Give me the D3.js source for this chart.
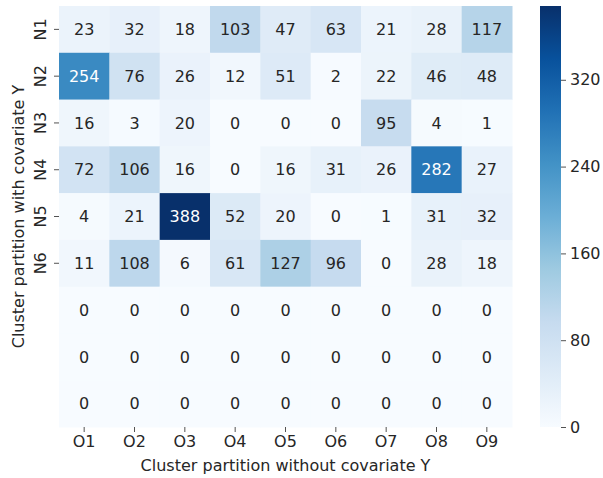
<!DOCTYPE html>
<html>
<head>
<meta charset="utf-8">
<script src="https://cdn.jsdelivr.net/npm/d3@7"></script>
<style>
  body { margin: 0; background: #fff; }
  text { font-family: "DejaVu Sans", sans-serif; }
</style>
</head>
<body>
<div id="chart"></div>
<script>
// column / row labels (last three rows have no label)
var cols = ["O1", "O2", "O3", "O4", "O5", "O6", "O7", "O8", "O9"];
var rows = ["N1", "N2", "N3", "N4", "N5", "N6", "", "", ""];

// counts, one array per row
var rowN1 = [23, 32, 18, 103, 47, 63, 21, 28, 117];
var rowN2 = [254, 76, 26, 12, 51, 2, 22, 46, 48];
var rowN3 = [16, 3, 20, 0, 0, 0, 95, 4, 1];
var rowN4 = [72, 106, 16, 0, 16, 31, 26, 282, 27];
var rowN5 = [4, 21, 388, 52, 20, 0, 1, 31, 32];
var rowN6 = [11, 108, 6, 61, 127, 96, 0, 28, 18];
var rowE1 = [0, 0, 0, 0, 0, 0, 0, 0, 0];
var rowE2 = [0, 0, 0, 0, 0, 0, 0, 0, 0];
var rowE3 = [0, 0, 0, 0, 0, 0, 0, 0, 0];

var cbTicks = [0, 80, 160, 240, 320];

var matrix = [rowN1, rowN2, rowN3, rowN4, rowN5, rowN6, rowE1, rowE2, rowE3];

var width = 603, height = 478;
var fs = 16;

//heatmap area
var hm = {left: 59, top: 6, right: 512, bottom: 427};
//colorbar area
var cb = {left: 540, right: 561};

var vmax = d3.max(matrix, r => d3.max(r));

//matplotlib Blues stops
var bluesStops = ["#f7fbff", "#deebf7", "#c6dbef", "#9ecae1", "#6baed6",
                  "#4292c6", "#2171b5", "#08519c", "#08306b"];
var color = d3.scaleLinear()
    .domain(d3.range(9).map(i => i / 8 * vmax))
    .range(bluesStops)
    .interpolate(d3.interpolateRgb)
    .clamp(true);

var xScale = d3.scaleBand().domain(d3.range(cols.length)).range([hm.left, hm.right]);
var yScale = d3.scaleBand().domain(d3.range(rows.length)).range([hm.top, hm.bottom]);
var cScale = d3.scaleLinear().domain([0, vmax]).range([hm.bottom, hm.top]);

var svg = d3.select("#chart").append("svg")
    .attr("width", width).attr("height", height);

//flatten to cells
var cells = [];
matrix.forEach((r, i) => r.forEach((v, j) => cells.push({i: i, j: j, v: v})));

function lum(c) {
    var rgb = d3.rgb(c);
    var f = x => { x = x / 255; return x <= 0.03928 ? x / 12.92 : Math.pow((x + 0.055) / 1.055, 2.4); };
    return 0.2126 * f(rgb.r) + 0.7152 * f(rgb.g) + 0.0722 * f(rgb.b);
}

svg.append("g").selectAll("rect")
    .data(cells)
    .enter().append("rect")
    .attr("x", d => xScale(d.j))
    .attr("y", d => yScale(d.i))
    .attr("width", xScale.bandwidth() + 0.5)
    .attr("height", yScale.bandwidth() + 0.5)
    .attr("fill", d => color(d.v));

svg.append("g").selectAll("text")
    .data(cells)
    .enter().append("text")
    .attr("x", d => xScale(d.j) + xScale.bandwidth() / 2)
    .attr("y", d => yScale(d.i) + yScale.bandwidth() / 2)
    .attr("text-anchor", "middle")
    .attr("dy", "0.36em")
    .style("font-size", fs + "px")
    .attr("fill", d => lum(color(d.v)) < 0.408 ? "#ffffff" : "#262626")
    .text(d => d.v);

//x axis
var xAxis = d3.axisBottom(xScale).tickSize(5).tickPadding(4).tickFormat(i => cols[i]);
var gx = svg.append("g").attr("transform", `translate(0, ${hm.bottom})`).call(xAxis)
    .attr("font-family", null).attr("font-size", null);
gx.select(".domain").remove();
gx.selectAll("line").attr("stroke", "#262626").attr("stroke-width", 0.8);
gx.selectAll("text").style("font-size", fs + "px").attr("fill", "#262626");

//y axis, only labelled rows get ticks
var labelled = d3.range(rows.length).filter(i => rows[i] !== "");
var yAxis = d3.axisLeft(yScale).tickValues(labelled).tickSize(5).tickPadding(4).tickFormat(i => rows[i]);
var gy = svg.append("g").attr("transform", `translate(${hm.left}, 0)`).call(yAxis)
    .attr("font-family", null).attr("font-size", null);
gy.select(".domain").remove();
gy.selectAll("line").attr("stroke", "#262626").attr("stroke-width", 0.8);
gy.selectAll("text").style("font-size", fs + "px").attr("fill", "#262626")
    .attr("text-anchor", "middle")
    .attr("x", 0).attr("dy", 0)
    .attr("transform", "translate(-19, 0) rotate(-90)")
    .attr("dominant-baseline", "central");

//axis titles
svg.append("text")
    .attr("x", (hm.left + hm.right) / 2)
    .attr("y", 471)
    .attr("text-anchor", "middle")
    .style("font-size", fs + "px").attr("fill", "#262626")
    .text("Cluster partition without covariate Y");

svg.append("text")
    .attr("transform", `translate(24, ${(hm.top + hm.bottom) / 2}) rotate(-90)`)
    .attr("text-anchor", "middle")
    .style("font-size", fs + "px").attr("fill", "#262626")
    .text("Cluster partition with covariate Y");

//colorbar gradient
var defs = svg.append("defs");
var grad = defs.append("linearGradient").attr("id", "cbgrad")
    .attr("x1", 0).attr("y1", 1).attr("x2", 0).attr("y2", 0);
bluesStops.forEach((c, i) => grad.append("stop").attr("offset", i / 8).attr("stop-color", c));

svg.append("rect")
    .attr("x", cb.left).attr("y", cScale(vmax))
    .attr("width", cb.right - cb.left)
    .attr("height", cScale(0) - cScale(vmax))
    .attr("fill", "url(#cbgrad)");

var cAxis = d3.axisRight(cScale).tickValues(cbTicks).tickSize(5).tickPadding(4);
var gc = svg.append("g").attr("transform", `translate(${cb.right}, 0)`).call(cAxis)
    .attr("font-family", null).attr("font-size", null);
gc.select(".domain").remove();
gc.selectAll("line").attr("stroke", "#262626").attr("stroke-width", 0.8);
gc.selectAll("text").style("font-size", fs + "px").attr("fill", "#262626");
</script>
</body>
</html>
